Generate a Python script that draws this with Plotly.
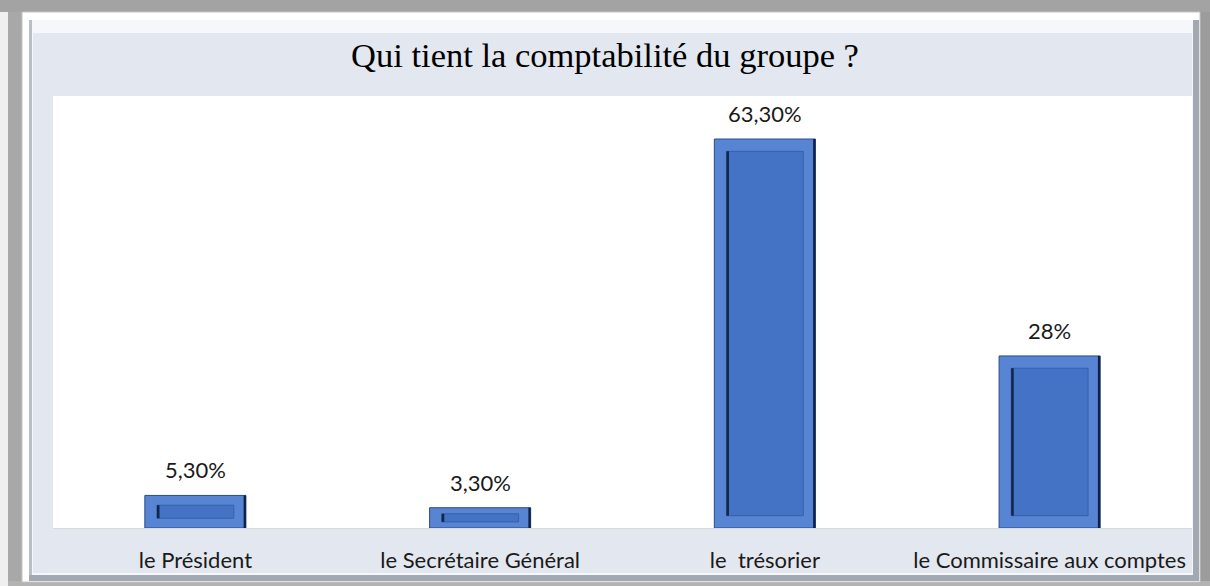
import plotly.graph_objects as go

categories = ["le Président", "le Secrétaire Général", "le  trésorier", "le Commissaire aux comptes"]
values = [5.3, 3.3, 63.3, 28.0]
value_labels = ["5,30%", "3,30%", "63,30%", "28%"]
title_text = "Qui tient la comptabilité du groupe ?"

W, H = 1210, 586
ML, MR, MT, MB = 53, 18, 96, 58

BAR_W = 0.355
IN_W = 0.27
insets = [min(2.0, v * 0.3) for v in values]
inner_h = [v - 2 * i for v, i in zip(values, insets)]

fig = go.Figure()
# outer bevel body
fig.add_trace(go.Bar(
    x=categories, y=values, width=BAR_W,
    marker=dict(color="#5885d3", line=dict(color="#2b4b86", width=1)),
    hoverinfo="skip", showlegend=False,
))
# dark right edge of the bevel
fig.add_trace(go.Bar(
    x=categories, y=values, width=0.008, offset=BAR_W / 2 - 0.008,
    marker=dict(color="#0f2245", line=dict(width=0)),
    hoverinfo="skip", showlegend=False,
))
# inner face
fig.add_trace(go.Bar(
    x=categories, y=inner_h, base=insets, width=IN_W,
    marker=dict(color="#4472c4", line=dict(color="#3760a8", width=1)),
    hoverinfo="skip", showlegend=False,
))
# dark left inner edge
fig.add_trace(go.Bar(
    x=categories, y=inner_h, base=insets, width=0.009, offset=-IN_W / 2,
    marker=dict(color="#14264a", line=dict(width=0)),
    hoverinfo="skip", showlegend=False,
))

for c, v, t in zip(categories, values, value_labels):
    fig.add_annotation(x=c, y=v, text=t, showarrow=False, yanchor="bottom", yshift=10,
                       font=dict(family="Lato, Open Sans, sans-serif", size=22, color="#1a1a1a"))

def px_rect(x0, y0, x1, y1, fill, line=None, lw=0):
    pw, ph = W - ML - MR, H - MT - MB
    return dict(type="rect", xref="paper", yref="paper",
                x0=(x0 - ML) / pw, x1=(x1 - ML) / pw,
                y0=(H - MB - y1) / ph, y1=(H - MB - y0) / ph,
                fillcolor=fill, line=dict(color=line or "rgba(0,0,0,0)", width=lw), layer="below")

shapes = [
    px_rect(0, 0, W, H, "#efefef"),
    px_rect(0, 0, W, 12, "#a3a3a3"),
    px_rect(8, 12, 22, 586, "#a8a8a8"),
    px_rect(1200, 12, W, 586, "#9c9c9c"),
    px_rect(8, 581, W, 586, "#b3b3b3"),
    px_rect(22, 12, 1200, 582, "#ffffff", "#c4c4c4", 1),
    px_rect(29, 20, 1199, 581, "#a3a9b3"),
    px_rect(29, 20, 1193, 575, "#f6f7fa"),
    px_rect(29, 20, 32, 575, "#b9bec7"),
    px_rect(33, 33, 1192, 573, "#e3e7ef"),
    px_rect(ML, MT, W - MR, H - MB, "#ffffff"),
]

fig.update_layout(
    width=W, height=H,
    margin=dict(l=ML, r=MR, t=MT, b=MB),
    paper_bgcolor="#efefef",
    plot_bgcolor="white",
    barmode="overlay",
    shapes=shapes,
    title=dict(text=title_text, x=0.5, xref="container", xanchor="center",
               y=1 - 55 / H, yref="container", yanchor="middle",
               font=dict(family="Liberation Serif, Times New Roman, serif", size=34.5, color="black")),
    xaxis=dict(showgrid=False, showline=True, linecolor="#d9d9d9", linewidth=1, automargin=False,
               ticks="outside", ticklen=13, tickcolor="rgba(0,0,0,0)",
               tickfont=dict(family="Lato, Open Sans, sans-serif", size=22, color="#1a1a1a")),
    yaxis=dict(range=[0, 70.3], visible=False, showgrid=False, automargin=False),
)

fig.write_html("out.html", post_script="document.body.style.margin='0';",
               config={"displayModeBar": False})
